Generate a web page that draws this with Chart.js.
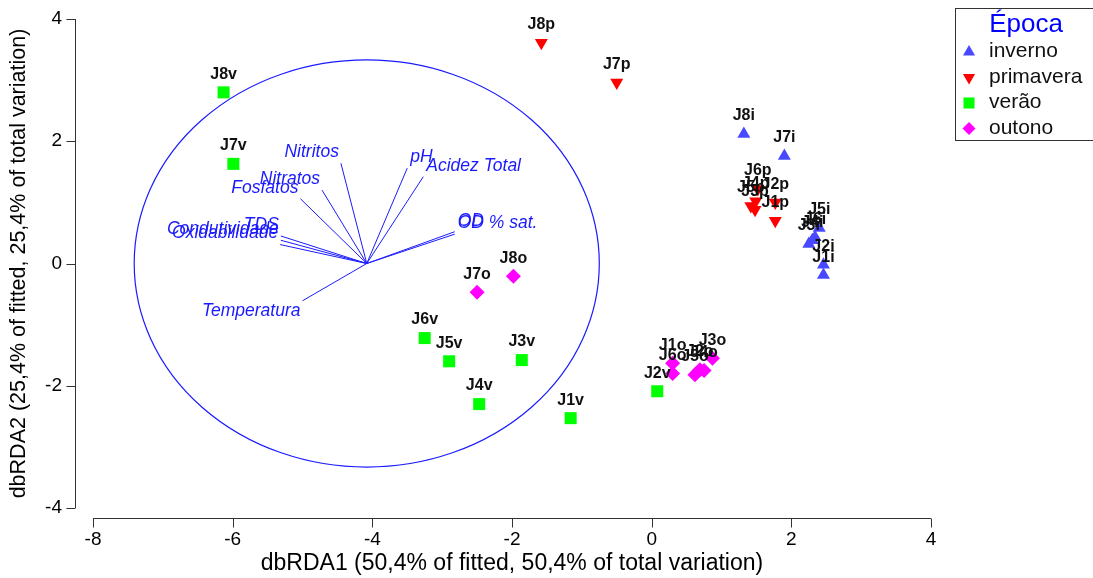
<!DOCTYPE html>
<html>
<head>
<meta charset="utf-8">
<script src="https://cdn.jsdelivr.net/npm/chart.js@4.4.0/dist/chart.umd.min.js"></script>
<style>
  html, body { margin: 0; padding: 0; background: #fff; }
  #wrap { width: 1093px; height: 578px; position: relative; }
</style>
</head>
<body>
<div id="wrap"><canvas id="rda"></canvas></div>
<script>
// sample scores on dbRDA1 / dbRDA2, one set of arrays per season
const invernoNames = ['J1i', 'J2i', 'J3i', 'J4i', 'J5i', 'J6i', 'J7i', 'J8i'];
const invernoX = [2.46, 2.46, 2.25, 2.30, 2.40, 2.34, 1.90, 1.32];
const invernoY = [-0.19, -0.02, 0.32, 0.38, 0.58, 0.43, 1.76, 2.12];

const primaveraNames = ['J1p', 'J2p', 'J3p', 'J4p', 'J5p', 'J6p', 'J7p', 'J8p'];
const primaveraX = [1.77, 1.77, 1.48, 1.49, 1.42, 1.52, -0.50, -1.58];
const primaveraY = [0.70, 1.00, 0.88, 1.02, 0.94, 1.22, 2.96, 3.61];

const veraoNames = ['J1v', 'J2v', 'J3v', 'J4v', 'J5v', 'J6v', 'J7v', 'J8v'];
const veraoX = [-1.16, 0.08, -1.86, -2.47, -2.90, -3.25, -5.99, -6.13];
const veraoY = [-2.53, -2.09, -1.58, -2.30, -1.60, -1.22, 1.63, 2.80];

const outonoNames = ['J1o', 'J2o', 'J3o', 'J4o', 'J5o', 'J6o', 'J7o', 'J8o'];
const outonoX = [0.30, 0.69, 0.87, 0.75, 0.62, 0.30, -2.50, -1.98];
const outonoY = [-1.63, -1.74, -1.55, -1.75, -1.82, -1.80, -0.47, -0.21];

// environmental vectors (end points, plot units)
const varNames = ['Nitritos', 'pH', 'Acidez Total', 'Nitratos', 'Fosfatos', 'TDS',
  'Condutividade', 'Oxidabilidade', 'Temperatura', 'OD', 'OD % sat.'];
const varX = [-4.45, -3.50, -3.27, -4.72, -5.03, -5.31, -5.31, -5.32, -5.00, -2.82, -2.82];
const varY = [1.64, 1.56, 1.42, 1.20, 1.06, 0.45, 0.38, 0.31, -0.61, 0.52, 0.48];

// correlation circle
const circleX = -4.08;
const circleY = 0;
const circleR = 3.33;

const xTicks = [-8, -6, -4, -2, 0, 2, 4];
const yTicks = [-4, -2, 0, 2, 4];

const FONT = "'Liberation Sans', Arial, sans-serif";
const BLUE = '#1a1aff';

const seasons = [
  { label: 'inverno', names: invernoNames, xs: invernoX, ys: invernoY,
    color: '#4848ff', style: 'triangle', rot: 0, r: 7.5, lr: 7 },
  { label: 'primavera', names: primaveraNames, xs: primaveraX, ys: primaveraY,
    color: '#ff0000', style: 'triangle', rot: 180, r: 7.5, lr: 7 },
  { label: 'verão', names: veraoNames, xs: veraoX, ys: veraoY,
    color: '#00ff00', style: 'rect', rot: 0, r: 8.5, lr: 7.8 },
  { label: 'outono', names: outonoNames, xs: outonoX, ys: outonoY,
    color: '#ff00ff', style: 'rectRot', rot: 0, r: 7.5, lr: 6.5 }
];

const datasets = [];
seasons.forEach(s => {
  datasets.push({
    type: 'scatter',
    label: s.label,
    names: s.names,
    data: s.xs.map((x, i) => ({ x: x, y: s.ys[i] })),
    backgroundColor: s.color,
    borderColor: s.color,
    borderWidth: 0,
    pointStyle: s.style,
    rotation: s.rot,
    pointRadius: s.r,
    pointHoverRadius: s.r
  });
});
varNames.forEach((n, i) => {
  datasets.push({
    type: 'line',
    label: n,
    data: [{ x: circleX, y: circleY }, { x: varX[i], y: varY[i] }],
    borderColor: BLUE,
    borderWidth: 1,
    pointRadius: 0,
    fill: false
  });
});

// detached R-style axes
const axesPlugin = {
  id: 'axesPlugin',
  afterDraw(chart) {
    const { ctx, scales: { x, y } } = chart;
    ctx.save();
    ctx.strokeStyle = '#333';
    ctx.lineWidth = 1;
    const ax = 75.5, ay = 518.5;
    ctx.beginPath();
    ctx.moveTo(ax, y.getPixelForValue(yTicks[yTicks.length - 1]));
    ctx.lineTo(ax, y.getPixelForValue(yTicks[0]));
    yTicks.forEach(v => {
      const p = Math.round(y.getPixelForValue(v)) + 0.5;
      ctx.moveTo(ax, p);
      ctx.lineTo(ax - 9, p);
    });
    ctx.moveTo(x.getPixelForValue(xTicks[0]), ay);
    ctx.lineTo(x.getPixelForValue(xTicks[xTicks.length - 1]), ay);
    xTicks.forEach(v => {
      const p = Math.round(x.getPixelForValue(v)) + 0.5;
      ctx.moveTo(p, ay);
      ctx.lineTo(p, ay + 9);
    });
    ctx.stroke();
    ctx.restore();
  }
};

const circlePlugin = {
  id: 'circlePlugin',
  beforeDatasetsDraw(chart) {
    const { ctx, scales: { x, y } } = chart;
    const cx = x.getPixelForValue(circleX);
    const cy = y.getPixelForValue(circleY);
    const rx = x.getPixelForValue(circleX + circleR) - cx;
    const ry = cy - y.getPixelForValue(circleY + circleR);
    ctx.save();
    ctx.strokeStyle = BLUE;
    ctx.lineWidth = 1.2;
    ctx.beginPath();
    ctx.ellipse(cx, cy, rx, ry, 0, 0, Math.PI * 2);
    ctx.stroke();
    ctx.restore();
  }
};

const labelPlugin = {
  id: 'labelPlugin',
  afterDatasetsDraw(chart) {
    const { ctx, scales: { x, y } } = chart;
    ctx.save();
    // vector names
    ctx.font = 'italic 17.5px ' + FONT;
    ctx.fillStyle = BLUE;
    ctx.textBaseline = 'middle';
    const ox = x.getPixelForValue(circleX);
    varNames.forEach((n, i) => {
      const px = x.getPixelForValue(varX[i]);
      const py = y.getPixelForValue(varY[i]);
      ctx.textAlign = px < ox ? 'right' : 'left';
      const tx = px < ox ? px - 2 : px + 3;
      const ty = varY[i] >= 0 ? py - 11 : py + 10;
      ctx.fillText(n, tx, ty);
    });
    // sample names
    ctx.font = 'bold 16px ' + FONT;
    ctx.fillStyle = '#111';
    ctx.textAlign = 'center';
    chart.data.datasets.forEach((ds, di) => {
      if (!ds.names) return;
      const meta = chart.getDatasetMeta(di);
      meta.data.forEach((pt, i) => {
        ctx.fillText(ds.names[i], pt.x, pt.y - 18);
      });
    });
    ctx.restore();
  }
};

const legendPlugin = {
  id: 'legendPlugin',
  afterDraw(chart) {
    const { ctx } = chart;
    ctx.save();
    ctx.strokeStyle = '#333';
    ctx.lineWidth = 1;
    ctx.strokeRect(955.5, 8.5, 160, 132);
    ctx.fillStyle = '#0000ff';
    ctx.font = '26px ' + FONT;
    ctx.textAlign = 'center';
    ctx.textBaseline = 'alphabetic';
    ctx.fillText('Época', 1026, 32);
    ctx.font = '21px ' + FONT;
    ctx.textAlign = 'left';
    seasons.forEach((s, i) => {
      const yy = 57 + i * 25.5;
      ctx.fillStyle = s.color;
      ctx.strokeStyle = s.color;
      Chart.helpers.drawPoint(ctx, {
        pointStyle: s.style, radius: s.lr, rotation: s.rot, borderWidth: 0
      }, 969, yy - 5);
      ctx.fillStyle = '#111';
      ctx.fillText(s.label, 989, yy);
    });
    ctx.restore();
  }
};

new Chart(document.getElementById('rda'), {
  type: 'scatter',
  data: { datasets: datasets },
  options: {
    responsive: true,
    maintainAspectRatio: false,
    animation: false,
    layout: { padding: { top: 19, right: 162, left: 0, bottom: 0 } },
    plugins: {
      legend: { display: false },
      tooltip: { enabled: false }
    },
    scales: {
      x: {
        type: 'linear',
        min: -8, max: 4,
        afterFit: s => { s.height = 70; },
        afterBuildTicks: s => { s.ticks = xTicks.map(v => ({ value: v })); },
        grid: { display: false, drawTicks: false },
        border: { display: false },
        ticks: { color: '#000', padding: 20, font: { size: 19, family: FONT } },
        title: {
          display: true,
          text: 'dbRDA1 (50,4% of fitted, 50,4% of total variation)',
          color: '#000',
          font: { size: 23, family: FONT },
          padding: { top: 0, bottom: 1 }
        }
      },
      y: {
        type: 'linear',
        min: -4, max: 4,
        afterFit: s => { s.width = 93; s.paddingTop = 0; s.paddingBottom = 0; },
        afterBuildTicks: s => { s.ticks = yTicks.map(v => ({ value: v })); },
        grid: { display: false, drawTicks: false },
        border: { display: false },
        ticks: { color: '#000', padding: 31, font: { size: 19, family: FONT } },
        title: {
          display: true,
          text: 'dbRDA2 (25,4% of fitted, 25,4% of total variation)',
          color: '#000',
          font: { size: 21.5, family: FONT },
          padding: { top: 6, bottom: 0 }
        }
      }
    }
  },
  plugins: [circlePlugin, labelPlugin, axesPlugin, legendPlugin]
});
</script>
</body>
</html>
